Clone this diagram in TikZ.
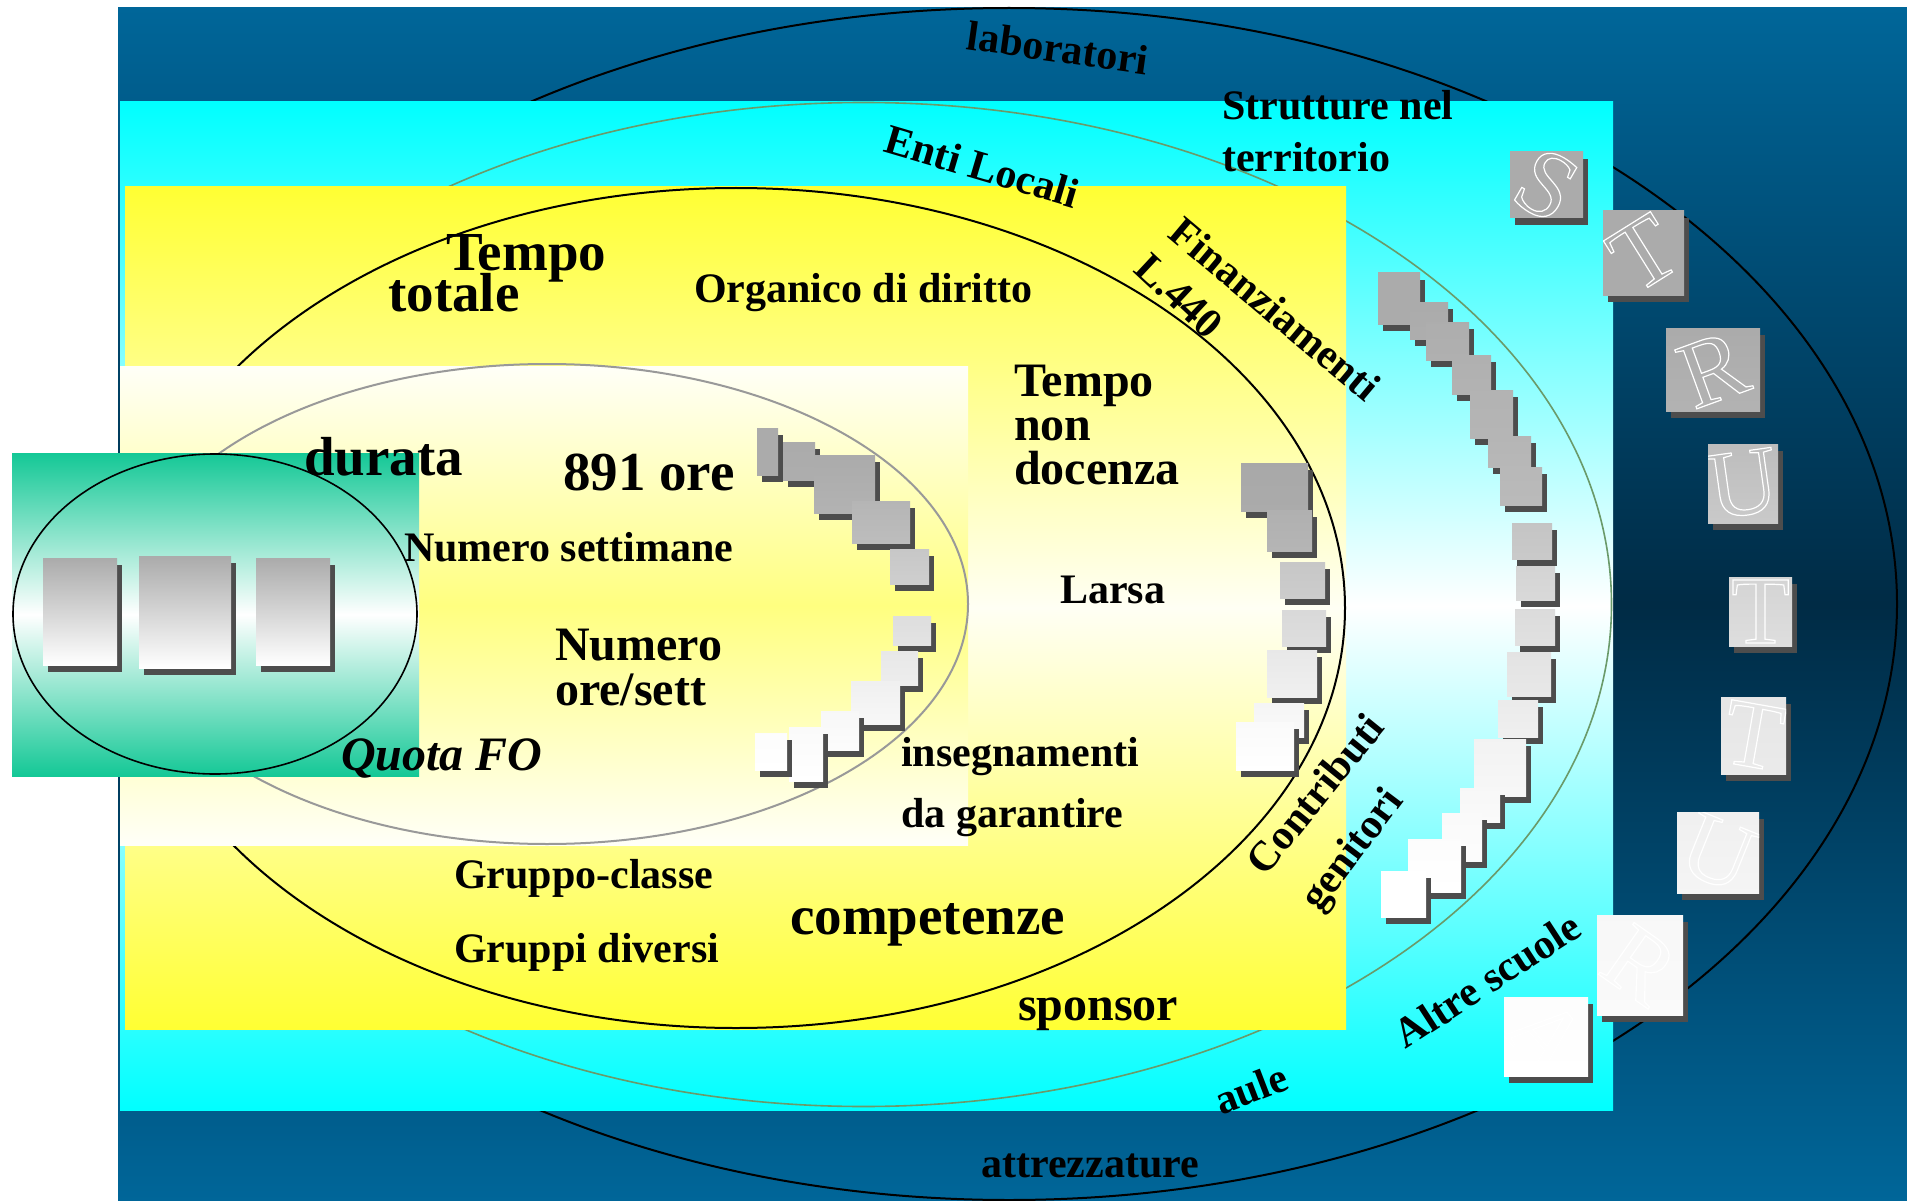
\documentclass[tikz,border=0pt]{standalone}
\usepackage{fontspec}
\setmainfont{Liberation Serif}
\definecolor{dblue}{HTML}{006699}
\definecolor{dbluemid}{HTML}{002B45}
\definecolor{cyanc}{HTML}{00FFFF}
\definecolor{yel}{HTML}{FFFF33}
\definecolor{yelmid}{HTML}{FFFFF4}
\definecolor{paleY}{HTML}{FFFFF8}
\definecolor{midY}{HTML}{FFFF80}
\definecolor{grn}{HTML}{14C896}
\definecolor{shadowc}{HTML}{4D4D4D}
\definecolor{ellgreen}{HTML}{6A9A6A}
\definecolor{ellgray}{HTML}{999999}
% square with drop shadow: x1 y1 x2 y2 topblack% bottomblack%
\newcommand\sqr[6]{%
  \fill[shadowc] ({#1+5},{#2+7}) rectangle ({#3+5},{#4+7});
  \shade[top color=black!#5, bottom color=black!#6] (#1,#2) rectangle (#3,#4);}
\newcommand\outl[1]{\special{pdf:literal direct 1 Tr 1.2 w}#1\special{pdf:literal direct 0 Tr}}
% letter square: x1 y1 x2 y2 top bottom letter angle name
\newcommand\lsq[9]{%
  \sqr{#1}{#2}{#3}{#4}{#5}{#6}
  \begin{scope}
  \clip (#1,#2) rectangle (#3,#4);
  \node[letterstyle, rotate=#8] (#9) at ({(#1+#3)/2},{(#2+#4)/2}) {\outl{#7}};
  \end{scope}}
\tikzset{
  sm/.style={font={\bfseries\fontsize{42}{48}\selectfont}, inner sep=0pt, anchor=base west, text=black},
  md/.style={font={\bfseries\fontsize{48}{54}\selectfont}, inner sep=0pt, anchor=base west, text=black},
  lg/.style={font={\bfseries\fontsize{55}{60}\selectfont}, inner sep=0pt, anchor=base west, text=black},
  letterstyle/.style={font={\fontsize{96}{96}\selectfont}, inner sep=0pt, text=white}
}
\begin{document}
\begin{tikzpicture}[x=1pt,y=-1pt]
\useasboundingbox (0,0) rectangle (1907,1201);
\fill[white] (0,0) rectangle (1907,1201);
% dark blue band
\shade[top color=dblue, bottom color=dblue, middle color=dbluemid] (118,8) rectangle (1907,1201);
\draw[line width=2pt, black] (1009,604) ellipse [x radius=888pt, y radius=596pt];
% cyan band
\shade[top color=cyanc, bottom color=cyanc, middle color=white] (120,102) rectangle (1613,1110);
\draw[line width=1.6pt, ellgreen] (863.5,604.5) ellipse [x radius=748pt, y radius=502pt];
% yellow band
\shade[top color=yel, bottom color=yel, middle color=yelmid] (125,187) rectangle (1346,1029);
\draw[line width=2pt, black] (736,608) ellipse [x radius=609pt, y radius=420pt];
% pale band
\shade[top color=paleY, bottom color=paleY, middle color=midY] (120,366) rectangle (968,845);
\draw[line width=2pt, ellgray] (547,604) ellipse [x radius=421pt, y radius=240pt];
% green box
\shade[top color=grn, bottom color=grn, middle color=white] (12,453) rectangle (419,776);
\draw[line width=1.6pt, black] (215,614) ellipse [x radius=202pt, y radius=160pt];
\sqr{43}{558}{117}{665}{33}{0}
\sqr{139}{556}{231}{668}{33}{0}
\sqr{256}{558}{330}{665}{33}{0}
% inner arc of squares
\sqr{757}{428}{778}{475}{33}{33}
\sqr{783}{442}{815}{480}{33}{32}
\sqr{814}{455}{875}{513}{33}{30}
\sqr{852}{501}{910}{543}{29}{26}
\sqr{890}{549}{929}{584}{22}{19}
\sqr{893}{616}{931}{645}{13}{11}
\sqr{881}{651}{918}{685}{9}{7}
\sqr{851}{681}{900}{724}{6}{3}
\sqr{821}{711}{859}{750}{3}{1}
\sqr{789}{727}{823}{781}{2}{0}
\sqr{755}{733}{787}{770}{1}{0}
% middle arc of squares
\sqr{1241}{463}{1308}{511}{34}{33}
\sqr{1267}{510}{1312}{551}{31}{29}
\sqr{1280}{562}{1325}{598}{22}{20}
\sqr{1282}{610}{1326}{646}{15}{13}
\sqr{1267}{650}{1317}{697}{9}{6}
\sqr{1254}{703}{1304}{737}{4}{2}
\sqr{1236}{722}{1294}{770}{2}{0}
% outer arc of squares
\sqr{1378}{273}{1420}{324}{33}{33}
\sqr{1410}{302}{1448}{339}{33}{32}
\sqr{1426}{322}{1469}{360}{32}{31}
\sqr{1452}{355}{1491}{394}{31}{30}
\sqr{1470}{390}{1513}{438}{30}{29}
\sqr{1488}{436}{1531}{467}{29}{28}
\sqr{1500}{467}{1542}{505}{28}{27}
\sqr{1512}{523}{1552}{559}{23}{21}
\sqr{1516}{566}{1555}{600}{17}{15}
\sqr{1515}{609}{1555}{645}{14}{12}
\sqr{1507}{652}{1551}{696}{11}{9}
\sqr{1498}{700}{1538}{737}{8}{6}
\sqr{1474}{739}{1526}{796}{5}{3}
\sqr{1460}{788}{1500}{822}{3}{2}
\sqr{1442}{813}{1482}{861}{2}{1}
\sqr{1408}{839}{1461}{892}{1}{0}
\sqr{1381}{871}{1426}{917}{0}{0}
% STRUTTURA letter squares
\lsq{1510}{152}{1583}{218}{33}{33}{S}{-30}{ls}
\lsq{1603}{211}{1684}{295}{33}{33}{T}{32}{lt}
\lsq{1666}{328}{1760}{411}{33}{30}{R}{20}{lr}
\lsq{1708}{444}{1778}{523}{26}{21}{U}{8}{lu}
\lsq{1729}{577}{1792}{646}{17}{13}{T}{0}{ltt}
\lsq{1721}{697}{1786}{774}{10}{8}{T}{-10}{lttt}
\lsq{1677}{812}{1759}{893}{6}{4}{U}{-22}{luu}
\lsq{1597}{915}{1683}{1015}{3}{2}{R}{-35}{lrr}
\lsq{1504}{997}{1588}{1076}{1}{0}{A}{-50}{la}
% texts
\node[sm, anchor=base, rotate=-8] (lab) at (1056,62) {laboratori};
\node[sm] (str1) at (1222,120) {Strutture nel};
\node[sm] (str2) at (1222,172) {territorio};
\node[sm, anchor=base, rotate=-16.5] (enti) at (978,180) {Enti Locali};
\node[sm, anchor=base, rotate=-40] (fin) at (1266,320) {Finanziamenti};
\node[sm, anchor=base, rotate=-43] (l440) at (1170,306) {L.440};
\node[lg] (tempo1) at (446,271) {Tempo};
\node[lg] (totale) at (388,312) {totale};
\node[sm] (org) at (694,302) {Organico di diritto};
\node[md] (tempo2) at (1014,396) {Tempo};
\node[md] (non) at (1014,440) {non};
\node[md] (doc) at (1014,484) {docenza};
\node[lg] (dur) at (304,475) {durata};
\node[lg] (ore) at (563,490) {891 ore};
\node[sm] (nset) at (404,561) {Numero settimane};
\node[md] (num) at (555,660) {Numero};
\node[md] (oresett) at (555,705) {ore/sett};
\node[md, font={\bfseries\itshape\fontsize{48}{54}\selectfont}] (quota) at (341,770) {Quota FO};
\node[sm] (larsa) at (1060,603) {Larsa};
\node[sm] (ins) at (901,766) {insegnamenti};
\node[sm] (gar) at (901,827) {da garantire};
\node[sm] (gc) at (454,888) {Gruppo-classe};
\node[sm] (gd) at (454,962) {Gruppi diversi};
\node[lg] (comp) at (790,934) {competenze};
\node[md] (spon) at (1018,1020) {sponsor};
\node[sm] (attr) at (981,1177) {attrezzature};
\node[sm, anchor=base, rotate=51] (contr) at (1326,803) {Contributi};
\node[sm, anchor=base, rotate=53] (gen) at (1362,857) {genitori};
\node[sm, anchor=base, rotate=33] (altre) at (1495,992) {Altre scuole};
\node[sm, anchor=base, rotate=21] (aule) at (1256,1102) {aule};
\end{tikzpicture}
\end{document}
